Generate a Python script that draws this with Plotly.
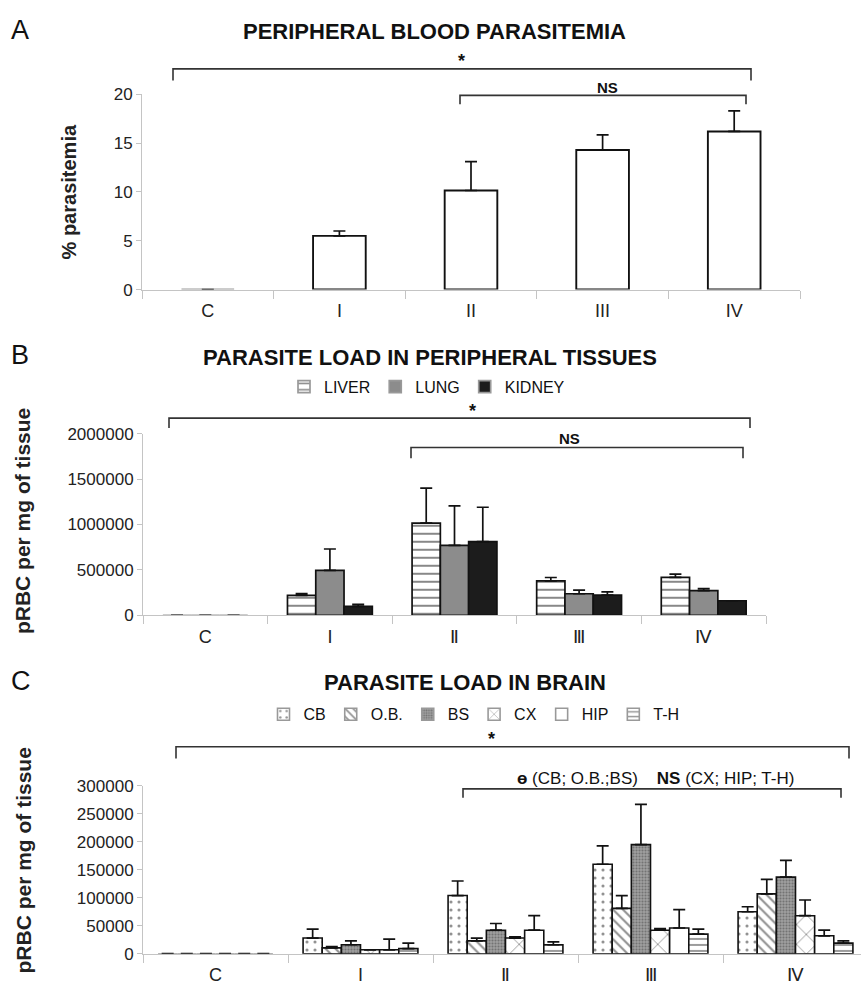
import plotly.graph_objects as go

W, H = 861, 1000

# ---------------- data ----------------
cats_a = ["C", "I", "II", "III", "IV"]
parasitemia = [0, 5.5, 10.15, 14.3, 16.2]
parasitemia_err = [None, 0.5, 2.95, 1.55, 2.1]

cats_b = ["C", "I", "Ⅱ", "Ⅲ", "Ⅳ"]
liver = [0, 220000, 1015000, 378000, 418000]
liver_err = [None, 18000, 385000, 38000, 35000]
lung = [0, 495000, 770000, 237000, 272000]
lung_err = [None, 235000, 435000, 40000, 22000]
kidney = [0, 98000, 812000, 222000, 160000]
kidney_err = [None, 22000, 378000, 35000, None]

cats_c = ["C", "I", "Ⅱ", "Ⅲ", "Ⅳ"]
cb = [0, 28000, 104000, 160000, 75000]
cb_err = [None, 16000, 26000, 33000, 9000]
ob = [0, 10500, 23000, 81000, 107000]
ob_err = [None, 2000, 5000, 23000, 26000]
bs = [0, 16000, 42000, 195000, 137000]
bs_err = [None, 7000, 12000, 72000, 30000]
cx = [0, 7000, 28000, 42000, 68000]
cx_err = [None, None, 2000, 3000, 28000]
hip = [0, 7000, 42000, 46000, 32000]
hip_err = [None, 19000, 26000, 33000, 10000]
th = [0, 9000, 16000, 35000, 19000]
th_err = [None, 10000, 5000, 9000, 4000]

# ---------------- helpers ----------------
def px(x):
    return x / W

def py(y):
    return 1 - y / H

ARIAL = "Liberation Sans, Arial, sans-serif"

fig = go.Figure()

def err(arr):
    return dict(type="data", symmetric=False, array=arr,
                arrayminus=[0] * len(arr), color="#111", thickness=1.7, width=6)

def line_colors(vals):
    return ["#999" if v == 0 else "#111" for v in vals]

# Panel A
fig.add_trace(go.Bar(x=cats_a, y=parasitemia, xaxis="x", yaxis="y",
                     width=0.4, offset=-0.2,
                     marker=dict(color="white", line=dict(color=line_colors(parasitemia), width=1.9)),
                     error_y=err(parasitemia_err), showlegend=False))

# Panel B
b_series = [
    ("LIVER", liver, liver_err, dict(color="white", pattern=dict(shape="-", fgcolor="#111", bgcolor="white", size=8, solidity=0.25))),
    ("LUNG", lung, lung_err, dict(color="#8c8c8c")),
    ("KIDNEY", kidney, kidney_err, dict(color="#1c1c1c")),
]
wb = 0.227
for i, (name, vals, e, mk) in enumerate(b_series):
    mk = dict(mk)
    mk["line"] = dict(color=line_colors(vals), width=1.7)
    fig.add_trace(go.Bar(x=cats_b, y=vals, name=name, xaxis="x2", yaxis="y2",
                         width=wb, offset=-1.5 * wb + i * wb, marker=mk,
                         error_y=err(e), legend="legend"))

# Panel C
c_series = [
    ("CB", cb, cb_err, dict(color="white", pattern=dict(shape=".", fgcolor="#222", bgcolor="white", size=8, solidity=0.12))),
    ("O.B.", ob, ob_err, dict(color="white", pattern=dict(shape="\\", fgcolor="#222", bgcolor="white", size=7, solidity=0.3))),
    ("BS", bs, bs_err, dict(color="#8a8a8a", pattern=dict(shape=".", fgcolor="#444", bgcolor="#a0a0a0", size=3, solidity=0.4))),
    ("CX", cx, cx_err, dict(color="white", pattern=dict(shape="x", fgcolor="#222", bgcolor="white", size=14, solidity=0.12))),
    ("HIP", hip, hip_err, dict(color="white")),
    ("T-H", th, th_err, dict(color="white", pattern=dict(shape="-", fgcolor="#222", bgcolor="white", size=6, solidity=0.3))),
]
wc = 0.132
for i, (name, vals, e, mk) in enumerate(c_series):
    mk = dict(mk)
    mk["line"] = dict(color=line_colors(vals), width=1.6)
    fig.add_trace(go.Bar(x=cats_c, y=vals, name=name, xaxis="x3", yaxis="y3",
                         width=wc, offset=-3 * wc + i * wc, marker=mk,
                         error_y=err(e), legend="legend2"))

# ---------------- axes ----------------
def xax(domain, anchor, rng=None):
    d = dict(domain=domain, anchor=anchor, type="category", showline=True,
             linecolor="#c4c4c4", linewidth=1, ticks="outside", tickson="boundaries",
             ticklen=8, tickcolor="#c4c4c4", showgrid=False, zeroline=False,
             tickfont=dict(family=ARIAL, size=18, color="#222"), ticklabelstandoff=5)
    if rng is not None:
        d["range"] = rng
    return d

def yax(domain, anchor, rng, dtick):
    return dict(domain=domain, anchor=anchor, range=rng, dtick=dtick, showline=True,
                linecolor="#c4c4c4", linewidth=1, ticks="outside", ticklen=5,
                tickcolor="#c4c4c4", showgrid=False, zeroline=False,
                tickfont=dict(family=ARIAL, size=17, color="#222"), tickformat="d")

fig.update_layout(
    width=W, height=H, margin=dict(l=0, r=0, t=0, b=0),
    plot_bgcolor="white", paper_bgcolor="white", barmode="overlay",
    xaxis=xax([px(142), px(800)], "y", [-0.5, 4.5]),
    yaxis=yax([py(286), py(87)], "x", [0, 20], 5),
    xaxis2=xax([px(143), px(766)], "y2", [-0.5, 4.5]),
    yaxis2=yax([py(618), py(433)], "x2", [0, 2000000], 500000),
    xaxis3=xax([px(143), 1.0], "y3", [-0.5, -0.5 + (861 - 143) / 145.0]),
    yaxis3=yax([py(963), py(792)], "x3", [0, 300000], 50000),
    legend=dict(orientation="h", x=px(427), y=py(385), xanchor="center", yanchor="middle",
                font=dict(family=ARIAL, size=16, color="#111"), itemwidth=30,
                bgcolor="rgba(0,0,0,0)"),
    legend2=dict(orientation="h", x=px(474), y=py(719), xanchor="center", yanchor="middle",
                 font=dict(family=ARIAL, size=16, color="#111"), itemwidth=30,
                 bgcolor="rgba(0,0,0,0)"),
)

# ---------------- texts ----------------
ann = []
def text(x, y, t, size, family=ARIAL, bold=False, angle=0, color="#111"):
    ann.append(dict(x=px(x), y=py(y), xref="paper", yref="paper", showarrow=False,
                    text=f"<b>{t}</b>" if bold else t, textangle=angle,
                    font=dict(family=family, size=size, color=color),
                    xanchor="center", yanchor="middle"))

text(20, 21, "A", 27)
text(20, 353, "B", 27)
text(21, 685, "C", 27)
text(435, 23, "PERIPHERAL BLOOD PARASITEMIA", 22, bold=True)
text(430, 355, "PARASITE LOAD IN PERIPHERAL TISSUES", 22, bold=True)
text(465, 687, "PARASITE LOAD IN BRAIN", 22, bold=True)

text(69, 187, "% parasitemia", 20, bold=True, angle=-90, color="#222")
text(22, 522, "pRBC per mg of tissue", 21, bold=True, angle=-90, color="#222")
text(24, 868, "pRBC per mg of tissue", 21, bold=True, angle=-90, color="#222")

text(461, 53, "*", 18, bold=True)
text(607, 80, "NS", 15, bold=True)
text(472, 410, "*", 18, bold=True)
text(569, 438, "NS", 15, bold=True)
text(491, 744, "*", 18, bold=True)
nb = "\u00a0"
text(655, 784, f"<b>ɵ</b>{nb}(CB; O.B.;BS){nb*4}<b>NS</b>{nb}(CX; HIP; T-H)", 17)

shapes = []
def bracket(x0, x1, y, ydown):
    shapes.append(dict(type="path", xref="paper", yref="paper",
                       path=f"M {px(x0)},{py(ydown)} L {px(x0)},{py(y)} L {px(x1)},{py(y)} L {px(x1)},{py(ydown)}",
                       line=dict(color="#333", width=1.6)))

bracket(173, 751, 61, 73)
bracket(460, 746, 88, 97)
bracket(169, 750, 417, 427)
bracket(411, 743, 447, 458)
bracket(176, 849, 752, 764)
bracket(463, 841, 795, 804)

fig.update_layout(annotations=ann, shapes=shapes)

fig.write_html("out.html", config={"displayModeBar": False},
               post_script="document.body.style.margin='0px';document.body.style.padding='0px';document.body.style.overflow='hidden';")
